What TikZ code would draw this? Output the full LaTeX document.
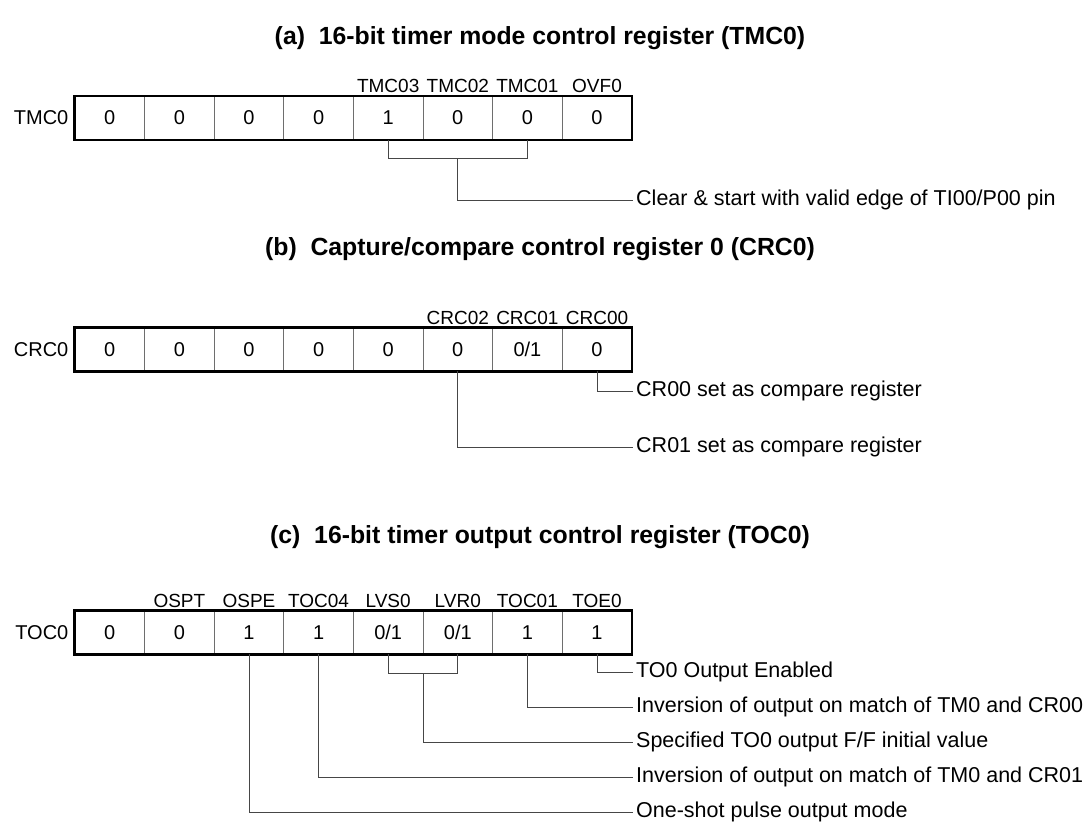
\documentclass[tikz,border=0pt]{standalone}
\usepackage{fontspec}
\setmainfont{Liberation Sans}
\usetikzlibrary{positioning}
\definecolor{rule}{RGB}{110,110,110}
\definecolor{leadc}{RGB}{70,70,70}

\begin{document}
\begin{tikzpicture}[x=1pt, y=-1pt,
    cell/.style={draw=rule, line width=0.9pt, minimum width=69.6pt,
                 minimum height=43pt, inner sep=0pt, font=\fontsize{20}{24}\selectfont},
    frame/.style={draw=black, line width=2.4pt},
    bitlab/.style={font=\fontsize{19}{22}\selectfont, inner sep=2pt},
    reglab/.style={font=\fontsize{20}{24}\selectfont, inner sep=2pt},
    desc/.style={font=\fontsize{21.5}{25}\selectfont, anchor=west,
                 inner xsep=3pt, inner ysep=0pt},
    leader/.style={draw=leadc, line width=1pt},
    heading/.style={font=\bfseries\fontsize{24.8}{29}\selectfont}]
  \useasboundingbox (0,0) rectangle (1088,823);
  \def\cx{75}
  \def\cw{69.6}

  % (a) TMC0
  \node[heading] (ha) at (540,38) {(a)\ \ 16-bit timer mode control register (TMC0)};
  \foreach \v [count=\i] in {0,0,0,0,1,0,0,0} { \node[cell] (a\i) at ({\cx+(\i-0.5)*\cw},118) {\v}; }
  \draw[frame] (a1.north west) rectangle (a8.south east);
  \node[reglab, left=4pt of a1] (tmc0) {TMC0};
  \foreach \i/\t in {5/TMC03,6/TMC02,7/TMC01,8/OVF0} { \node[bitlab, above=1pt of a\i] (la\i) {\t}; }
  \node[desc] (clr) at (633,200) {Clear \& start with valid edge of TI00/P00 pin};
  \draw[leader] (a5.south) -- ++(0,19) -| (a7.south);
  \draw[leader] ([yshift=-19pt]a6.south) |- (clr.west);

  % (b) CRC0
  \node[heading] (hb) at (540,249) {(b)\ \ Capture/compare control register 0 (CRC0)};
  \foreach \v [count=\i] in {0,0,0,0,0,0,{0/1},0} { \node[cell] (b\i) at ({\cx+(\i-0.5)*\cw},349.5) {\v}; }
  \draw[frame] (b1.north west) rectangle (b8.south east);
  \node[reglab, left=4pt of b1] (crc0) {CRC0};
  \foreach \i/\t in {6/CRC02,7/CRC01,8/CRC00} { \node[bitlab, above=1pt of b\i] (lb\i) {\t}; }
  \node[desc] (cr00) at (633,391) {CR00 set as compare register};
  \node[desc] (cr01) at (633,447) {CR01 set as compare register};
  \draw[leader] (b8.south) |- (cr00.west);
  \draw[leader] (b6.south) |- (cr01.west);

  % (c) TOC0
  \node[heading] (hc) at (540,537) {(c)\ \ 16-bit timer output control register (TOC0)};
  \foreach \v [count=\i] in {0,0,1,1,{0/1},{0/1},1,1} { \node[cell] (c\i) at ({\cx+(\i-0.5)*\cw},632.5) {\v}; }
  \draw[frame] (c1.north west) rectangle (c8.south east);
  \node[reglab, left=4pt of c1] (toc0) {TOC0};
  \foreach \i/\t in {2/OSPT,3/OSPE,4/TOC04,5/LVS0,6/LVR0,7/TOC01,8/TOE0} { \node[bitlab, above=1pt of c\i] (lc\i) {\t}; }
  \node[desc] (toe) at (633,672) {TO0 Output Enabled};
  \node[desc] (inv0) at (633,707) {Inversion of output on match of TM0 and CR00};
  \node[desc] (ffv) at (633,742) {Specified TO0 output F/F initial value};
  \node[desc] (inv1) at (633,777) {Inversion of output on match of TM0 and CR01};
  \node[desc] (osm) at (633,812) {One-shot pulse output mode};
  \draw[leader] (c8.south) |- (toe.west);
  \draw[leader] (c7.south) |- (inv0.west);
  \draw[leader] (c5.south) -- ++(0,19) -| (c6.south);
  \draw[leader] ([yshift=-19pt]c5.south east) |- (ffv.west);
  \draw[leader] (c4.south) |- (inv1.west);
  \draw[leader] (c3.south) |- (osm.west);
\end{tikzpicture}
\end{document}
